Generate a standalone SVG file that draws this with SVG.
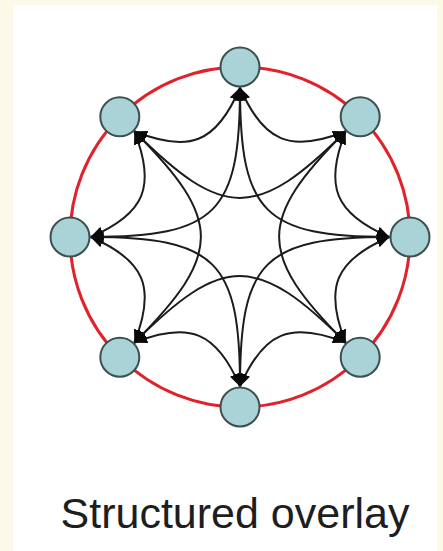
<svg xmlns="http://www.w3.org/2000/svg" width="443" height="551" viewBox="0 0 443 551">
  <style>
    .node { fill: #a9d3d6; stroke: #3d4f50; stroke-width: 2; }
    .edge { fill: none; stroke: #1c1c1c; stroke-width: 2; marker-start: url(#arrow); marker-end: url(#arrow); }
    .ring { fill: none; stroke: #e0222b; stroke-width: 3; }
    .label { font-family: "Liberation Sans", Arial, sans-serif; font-size: 43px; fill: #1e1e1e; }
  </style>
  <defs>
    <marker id="arrow" viewBox="0 0 13 11" refX="13" refY="5.5" markerWidth="13" markerHeight="11" markerUnits="userSpaceOnUse" orient="auto-start-reverse">
      <path d="M0,0 L13,5.5 L0,11 z" fill="#0a0a0a"/>
    </marker>
  </defs>
  <rect x="0" y="0" width="443" height="551" fill="#fdf9e9"/>
  <rect x="13" y="5" width="424" height="546" fill="#ffffff"/>

  <circle class="ring" cx="240" cy="237" r="170"/>

  <g id="connectors">
    <path class="edge" d="M240,87.5 C263.25,142 290.75,153.36 345.71,131.29"/>
    <path class="edge" d="M345.71,131.29 C323.61,186.26 335.03,213.74 389.5,237"/>
    <path class="edge" d="M389.5,237 C335,260.25 323.64,287.75 345.71,342.71"/>
    <path class="edge" d="M345.71,342.71 C290.74,320.61 263.26,332.03 240,386.5"/>
    <path class="edge" d="M240,386.5 C216.75,332 189.25,320.64 134.29,342.71"/>
    <path class="edge" d="M134.29,342.71 C156.39,287.74 144.97,260.26 90.5,237"/>
    <path class="edge" d="M90.5,237 C145,213.75 156.36,186.25 134.29,131.29"/>
    <path class="edge" d="M134.29,131.29 C189.26,153.39 216.74,142.97 240,87.5"/>
    <path class="edge" d="M240,87.5 C240,213.08 263.92,237 389.5,237"/>
    <path class="edge" d="M345.71,131.29 C256.91,220.09 256.91,253.91 345.71,342.71"/>
    <path class="edge" d="M389.5,237 C263.92,237 240,260.92 240,386.5"/>
    <path class="edge" d="M345.71,342.71 C256.91,253.91 223.09,253.91 134.29,342.71"/>
    <path class="edge" d="M240,386.5 C240,260.92 216.08,237 90.5,237"/>
    <path class="edge" d="M134.29,342.71 C223.09,253.91 223.09,220.09 134.29,131.29"/>
    <path class="edge" d="M90.5,237 C216.08,237 240,213.08 240,87.5"/>
    <path class="edge" d="M134.29,131.29 C223.09,220.09 256.91,220.09 345.71,131.29"/>
  </g>

  <g id="node-top"><circle class="node" cx="240" cy="67" r="19.5"/></g>
  <g id="node-top-right"><circle class="node" cx="360.2" cy="116.8" r="19.5"/></g>
  <g id="node-right"><circle class="node" cx="410" cy="237" r="19.5"/></g>
  <g id="node-bottom-right"><circle class="node" cx="360.2" cy="357.2" r="19.5"/></g>
  <g id="node-bottom"><circle class="node" cx="240" cy="407" r="19.5"/></g>
  <g id="node-bottom-left"><circle class="node" cx="119.8" cy="357.2" r="19.5"/></g>
  <g id="node-left"><circle class="node" cx="70" cy="237" r="19.5"/></g>
  <g id="node-top-left"><circle class="node" cx="119.8" cy="116.8" r="19.5"/></g>

  <text class="label" x="235" y="528" text-anchor="middle">Structured overlay</text>
</svg>
